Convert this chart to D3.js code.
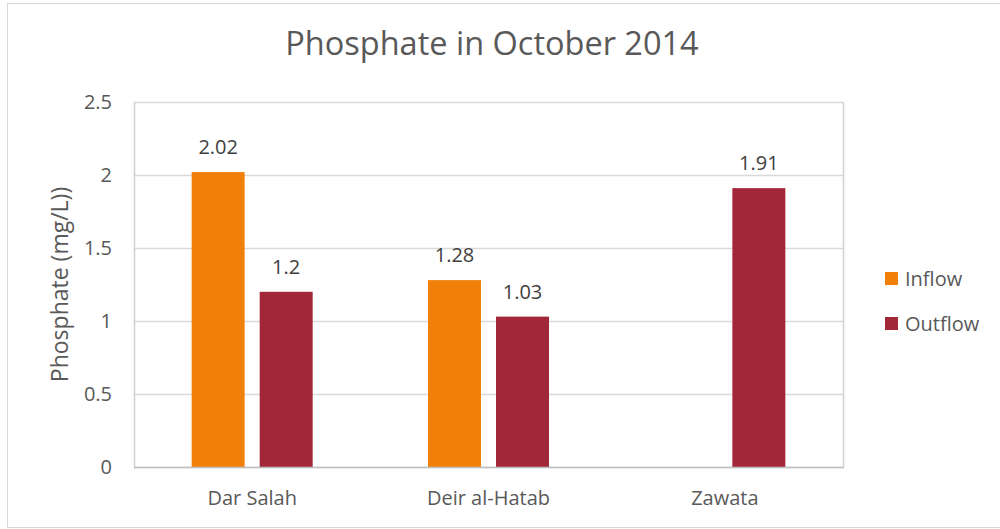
<!DOCTYPE html>
<html>
<head>
<meta charset="utf-8">
<script src="https://cdn.jsdelivr.net/npm/d3@7"></script>
<style>
  body { margin: 0; background: #fff; }
  text { font-family: "Open Sans", sans-serif; fill: #595959; }
</style>
</head>
<body>
<svg id="chart" width="1000" height="529"></svg>
<script>
var sites = ['Dar Salah', 'Deir al-Hatab', 'Zawata'];
var seriesNames = ['Inflow', 'Outflow'];
var inflow = [2.02, 1.28, null];
var outflow = [1.2, 1.03, 1.91];
var yTicks = [0, 0.5, 1, 1.5, 2, 2.5];
var colors = ['#F0800A', '#A22739'];

var svg = d3.select('#chart');
var margin = { top: 102, right: 157, bottom: 62, left: 134 };
var width = 1000, height = 529;
var font = '"Open Sans", sans-serif';

// outer chart frame
svg.append('rect')
  .attr('x', 7.5).attr('y', 3.5)
  .attr('width', 1000).attr('height', 524)
  .attr('fill', 'none')
  .attr('stroke', '#d9d9d9');

var x0 = d3.scaleBand()
  .domain(sites)
  .range([margin.left, width - margin.right])
  .padding(0);

var groupW = 121;
var x1 = d3.scaleBand()
  .domain(seriesNames)
  .range([(x0.bandwidth() - groupW) / 2, (x0.bandwidth() + groupW) / 2])
  .paddingInner(0.221)
  .paddingOuter(0);

var y = d3.scaleLinear()
  .domain([0, 2.5])
  .range([height - margin.bottom, margin.top]);

// gridlines
svg.append('g')
  .selectAll('line')
  .data(yTicks)
  .enter().append('line')
  .attr('x1', margin.left).attr('x2', width - margin.right)
  .attr('y1', function (d) { return Math.round(y(d)) + 0.5; })
  .attr('y2', function (d) { return Math.round(y(d)) + 0.5; })
  .attr('stroke', '#d9d9d9')
  .attr('stroke-width', 1.5);

// plot area border sides
svg.append('line')
  .attr('x1', margin.left + 0.5).attr('x2', margin.left + 0.5)
  .attr('y1', y(2.5)).attr('y2', y(0))
  .attr('stroke', '#d0d0d0').attr('stroke-width', 1.5);
svg.append('line')
  .attr('x1', width - margin.right + 0.5).attr('x2', width - margin.right + 0.5)
  .attr('y1', y(2.5)).attr('y2', y(0))
  .attr('stroke', '#d0d0d0').attr('stroke-width', 1.5);

// y axis labels
var yAxis = d3.axisLeft(y).tickValues(yTicks).tickSize(0).tickPadding(22)
  .tickFormat(function (d) { return d; });
var gy = svg.append('g')
  .attr('transform', 'translate(' + margin.left + ',0)')
  .call(yAxis);
gy.select('.domain').remove();
gy.selectAll('text')
  .style('font-size', '20px')
  .style('fill', '#595959')
  .style('font-family', font);

// bars
var rows = sites.map(function (s, i) {
  return { site: s, values: [inflow[i], outflow[i]] };
});

var groups = svg.append('g').selectAll('g')
  .data(rows)
  .enter().append('g')
  .attr('transform', function (d) { return 'translate(' + x0(d.site) + ',0)'; });

var cells = groups.selectAll('g')
  .data(function (d) {
    return seriesNames.map(function (n, j) { return { name: n, value: d.values[j], idx: j }; })
      .filter(function (c) { return c.value != null; });
  })
  .enter().append('g');

cells.append('rect')
  .attr('x', function (d) { return x1(d.name); })
  .attr('width', x1.bandwidth())
  .attr('y', function (d) { return y(d.value); })
  .attr('height', function (d) { return y(0) - y(d.value); })
  .attr('fill', function (d) { return colors[d.idx]; });

cells.append('text')
  .attr('x', function (d) { return x1(d.name) + x1.bandwidth() / 2; })
  .attr('y', function (d) { return y(d.value) - 18; })
  .attr('text-anchor', 'middle')
  .style('font-size', '20px')
  .style('fill', '#404040')
  .text(function (d) { return d.value; });

// x axis line
svg.append('line')
  .attr('x1', margin.left).attr('x2', width - margin.right + 1)
  .attr('y1', y(0) + 0.5).attr('y2', y(0) + 0.5)
  .attr('stroke', '#bfbfbf').attr('stroke-width', 1.5);

// x labels
var xAxis = d3.axisBottom(x0).tickSize(0).tickPadding(24);
var gx = svg.append('g')
  .attr('transform', 'translate(0,' + y(0) + ')')
  .call(xAxis);
gx.select('.domain').remove();
gx.selectAll('text')
  .style('font-size', '20px')
  .style('fill', '#595959')
  .style('font-family', font);

// title
svg.append('text')
  .attr('x', 492).attr('y', 55)
  .attr('text-anchor', 'middle')
  .style('font-size', '32.5px')
  .text('Phosphate in October 2014');

// y axis title
svg.append('text')
  .attr('transform', 'translate(68,' + ((y(0) + y(2.5)) / 2) + ') rotate(-90)')
  .attr('text-anchor', 'middle')
  .style('font-size', '23px')
  .text('Phosphate (mg/L))');

// legend
var legend = svg.append('g').selectAll('g')
  .data(seriesNames)
  .enter().append('g')
  .attr('transform', function (d, i) { return 'translate(885,' + (272 + i * 45) + ')'; });
legend.append('rect')
  .attr('width', 13).attr('height', 13)
  .attr('fill', function (d, i) { return colors[i]; });
legend.append('text')
  .attr('x', 20).attr('y', 14)
  .style('font-size', '20px')
  .text(function (d) { return d; });
</script>
</body>
</html>
